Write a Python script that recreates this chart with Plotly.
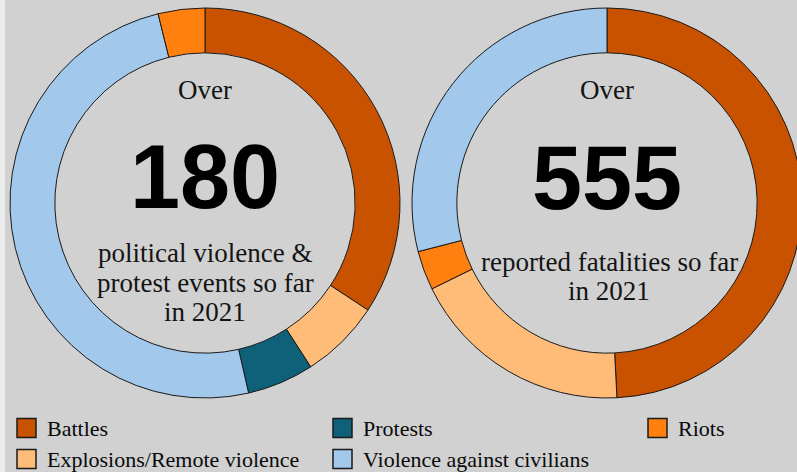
import plotly.graph_objects as go

W, H = 803, 472  # page is 797 wide; the right ring runs slightly past the edge

# ---- data ----
categories = ["Battles", "Explosions/Remote violence", "Protests",
              "Violence against civilians", "Riots"]
colors = {"Battles": "#C85200", "Explosions/Remote violence": "#FFBC79",
          "Protests": "#0E6179", "Violence against civilians": "#A2C8EC",
          "Riots": "#FF800E"}

events_labels = ["Battles", "Explosions/Remote violence", "Protests",
                 "Violence against civilians", "Riots"]
events_values = [62, 12, 10, 90, 7]

fatal_labels = ["Battles", "Explosions/Remote violence", "Riots",
                "Violence against civilians"]
fatal_values = [273, 103, 18, 161]

events_total_text = "180"
fatal_total_text = "555"
events_caption = ["political violence &", "protest events so far", "in 2021"]
fatal_caption = ["reported fatalities so far", "in 2021"]

# legend layout: column-major, 3 columns
legend_cols = [["Battles", "Explosions/Remote violence"],
               ["Protests", "Violence against civilians"],
               ["Riots"]]


def px(x):
    return x / W


def py(y):
    return 1 - y / H


fig = go.Figure()

fig.add_trace(go.Pie(
    labels=events_labels, values=events_values, hole=0.77, sort=False,
    direction="clockwise", rotation=0, textinfo="none", hoverinfo="label+value",
    marker=dict(colors=[colors[l] for l in events_labels],
                line=dict(color="#1a1a1a", width=1)),
    domain=dict(x=[px(10), px(400)], y=[py(398), py(8)]),
    showlegend=False,
))
fig.add_trace(go.Pie(
    labels=fatal_labels, values=fatal_values, hole=0.77, sort=False,
    direction="clockwise", rotation=0, textinfo="none", hoverinfo="label+value",
    marker=dict(colors=[colors[l] for l in fatal_labels],
                line=dict(color="#1a1a1a", width=1)),
    domain=dict(x=[px(412), px(802)], y=[py(398), py(8)]),
    showlegend=False,
))

serif = "Liberation Serif, Times New Roman, serif"
sans = "Liberation Sans, Arial, sans-serif"
ann = []


def text(x, y, s, size, family, color="#141414", anchor="center"):
    ann.append(dict(x=px(x), y=py(y), xref="paper", yref="paper", text=s,
                    showarrow=False, xanchor=anchor, yanchor="middle",
                    font=dict(size=size, family=family, color=color)))


# left donut texts
text(205, 90, "Over", 27, serif)
text(205, 177, "<b>%s</b>" % events_total_text, 90, sans, "#000")
for i, line in enumerate(events_caption):
    text(205, 253 + i * 29.5, line, 27, serif)

# right donut texts
text(607, 90, "Over", 27, serif)
text(607, 178, "<b>%s</b>" % fatal_total_text, 90, sans, "#000")
for i, line in enumerate(fatal_caption):
    text(609, 262 + i * 29, line, 27, serif)

# legend
shapes = [dict(type="rect", xref="paper", yref="paper", x0=0, x1=px(5),
               y0=0, y1=1, fillcolor="#ececec", line=dict(width=0), layer="below")]
col_x = [17, 333, 648]
row_y = [428, 459]
for ci, col in enumerate(legend_cols):
    for ri, lab in enumerate(col):
        x0 = col_x[ci]
        yc = row_y[ri]
        shapes.append(dict(type="rect", xref="paper", yref="paper",
                           x0=px(x0), x1=px(x0 + 19), y0=py(yc + 9.5), y1=py(yc - 9.5),
                           fillcolor=colors[lab], line=dict(color="#1a1a1a", width=1.5)))
        text(x0 + 28, yc, lab, 22, serif, color="#0a0a0a", anchor="left")

fig.update_layout(
    width=W, height=H, margin=dict(l=0, r=0, t=0, b=0),
    paper_bgcolor="#D1D1D1", plot_bgcolor="#D1D1D1",
    annotations=ann, shapes=shapes, showlegend=False,
)

fig.write_html(
    "out.html",
    config={"displayModeBar": False},
    post_script="document.body.style.margin='0';document.body.style.overflow='hidden';",
)
